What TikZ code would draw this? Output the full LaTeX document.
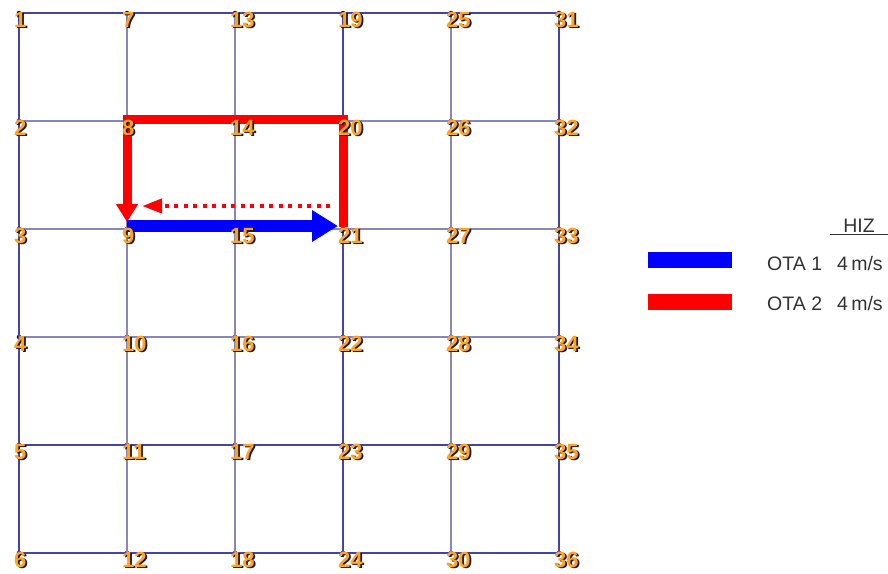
\documentclass[tikz,border=0pt]{standalone}
\usepackage{fontspec}
\setmainfont{Liberation Sans}
\usetikzlibrary{arrows.meta,calc}
\definecolor{griddark}{HTML}{4343A8}
\definecolor{gridlight}{HTML}{8787BE}
\definecolor{labfill}{HTML}{FFA41B}
\definecolor{labshade}{HTML}{151520}
\definecolor{otablue}{HTML}{0000FF}
\definecolor{otared}{HTML}{FF0000}
\definecolor{keyink}{HTML}{333333}
% number with a dark drop shadow behind it
\newcommand\shadenum[1]{\makebox[0pt][l]{\kern1.7pt\raisebox{-1.8pt}{\color{labshade}#1}}#1}
\tikzset{
  every node/.style={inner sep=0pt},
  gline/.style={line width=1.4pt},
  junc/.style={circle, fill=black, minimum size=4.5pt, inner sep=0pt},
  numlab/.style={font=\fontsize{22}{22}\selectfont\bfseries, text=labfill, anchor=base west},
  ota1/.style={draw=otablue, line width=12pt, -{Triangle[length=26pt,width=30pt]}},
  ota2/.style={draw=otared, line width=9pt, line join=miter, -{Triangle[length=18pt,width=21pt]}},
  ota2back/.style={draw=otared, line width=4pt, dash pattern=on 4pt off 5.5pt, -{Triangle[length=20pt,width=14pt]}},
  keybar/.style={minimum width=84pt, minimum height=16pt},
  keytext/.style={font=\fontsize{19.5}{19.5}\selectfont, text=keyink, anchor=base west},
}
\begin{document}
\begin{tikzpicture}[x=1pt,y=-1pt]
  \useasboundingbox (0,0) rectangle (888,573);

  % junctions, numbered column by column
  \foreach \c in {0,...,5} {
    \foreach \r in {0,...,5} {
      \pgfmathtruncatemacro{\k}{6*\c+\r+1}
      \node[junc] (n\k) at (19+108*\c, 13+108*\r) {};
    }
  }

  % grid lines
  \foreach \c/\col in {0/griddark, 1/gridlight, 2/gridlight, 3/griddark, 4/gridlight, 5/griddark} {
    \pgfmathtruncatemacro{\a}{6*\c+1}
    \pgfmathtruncatemacro{\b}{6*\c+6}
    \draw[gline, draw=\col] (n\a.center) -- (n\b.center);
  }
  \foreach \r/\col in {0/griddark, 1/gridlight, 2/gridlight, 3/gridlight, 4/griddark, 5/griddark} {
    \pgfmathtruncatemacro{\a}{\r+1}
    \pgfmathtruncatemacro{\b}{\r+31}
    \draw[gline, draw=\col] (n\a.center) -- (n\b.center);
  }

  % --- OTA routes ----------------------------------------------------------
  \draw[ota2, shorten >=7pt] ([yshift=2pt]n21.center) -- ([yshift=2pt]n20.center) -- ([yshift=2pt]n8.center) -- (n9.center);
  \draw[ota1, shorten >=5pt] ([yshift=3pt]n9.center) -- ([yshift=3pt]n21.center);
  \draw[ota2back] ([shift={(-13,-23)}]n21.center) -- ([shift={(15,-23)}]n9.center);

  % junction numbers
  \foreach \k in {1,...,36} {
    \node[numlab] (l\k) at ([shift={(-5,14)}]n\k.center) {\shadenum{\k}};
  }

  % --- legend ----------------------------------------------------------------
  \node[font=\fontsize{19.5}{19.5}\selectfont, text=keyink, minimum width=58pt, anchor=base] (hiz) at (859,232) {HIZ};
  \draw[line width=0.9pt, keyink] ([yshift=-2.5pt]hiz.base west) -- ([yshift=-2.5pt]hiz.base east);
  \node[keybar, fill=otablue] (key1) at (690,260) {};
  \node[keybar, fill=otared] (key2) at (690,301.5) {};
  \node[keytext] (ota1lab) at (767,270) {OTA 1};
  \node[keytext] (ota1v) at (837,270) {4\,m/s};
  \node[keytext] (ota2lab) at (767,310) {OTA 2};
  \node[keytext] (ota2v) at (837,310) {4\,m/s};
\end{tikzpicture}
\end{document}
